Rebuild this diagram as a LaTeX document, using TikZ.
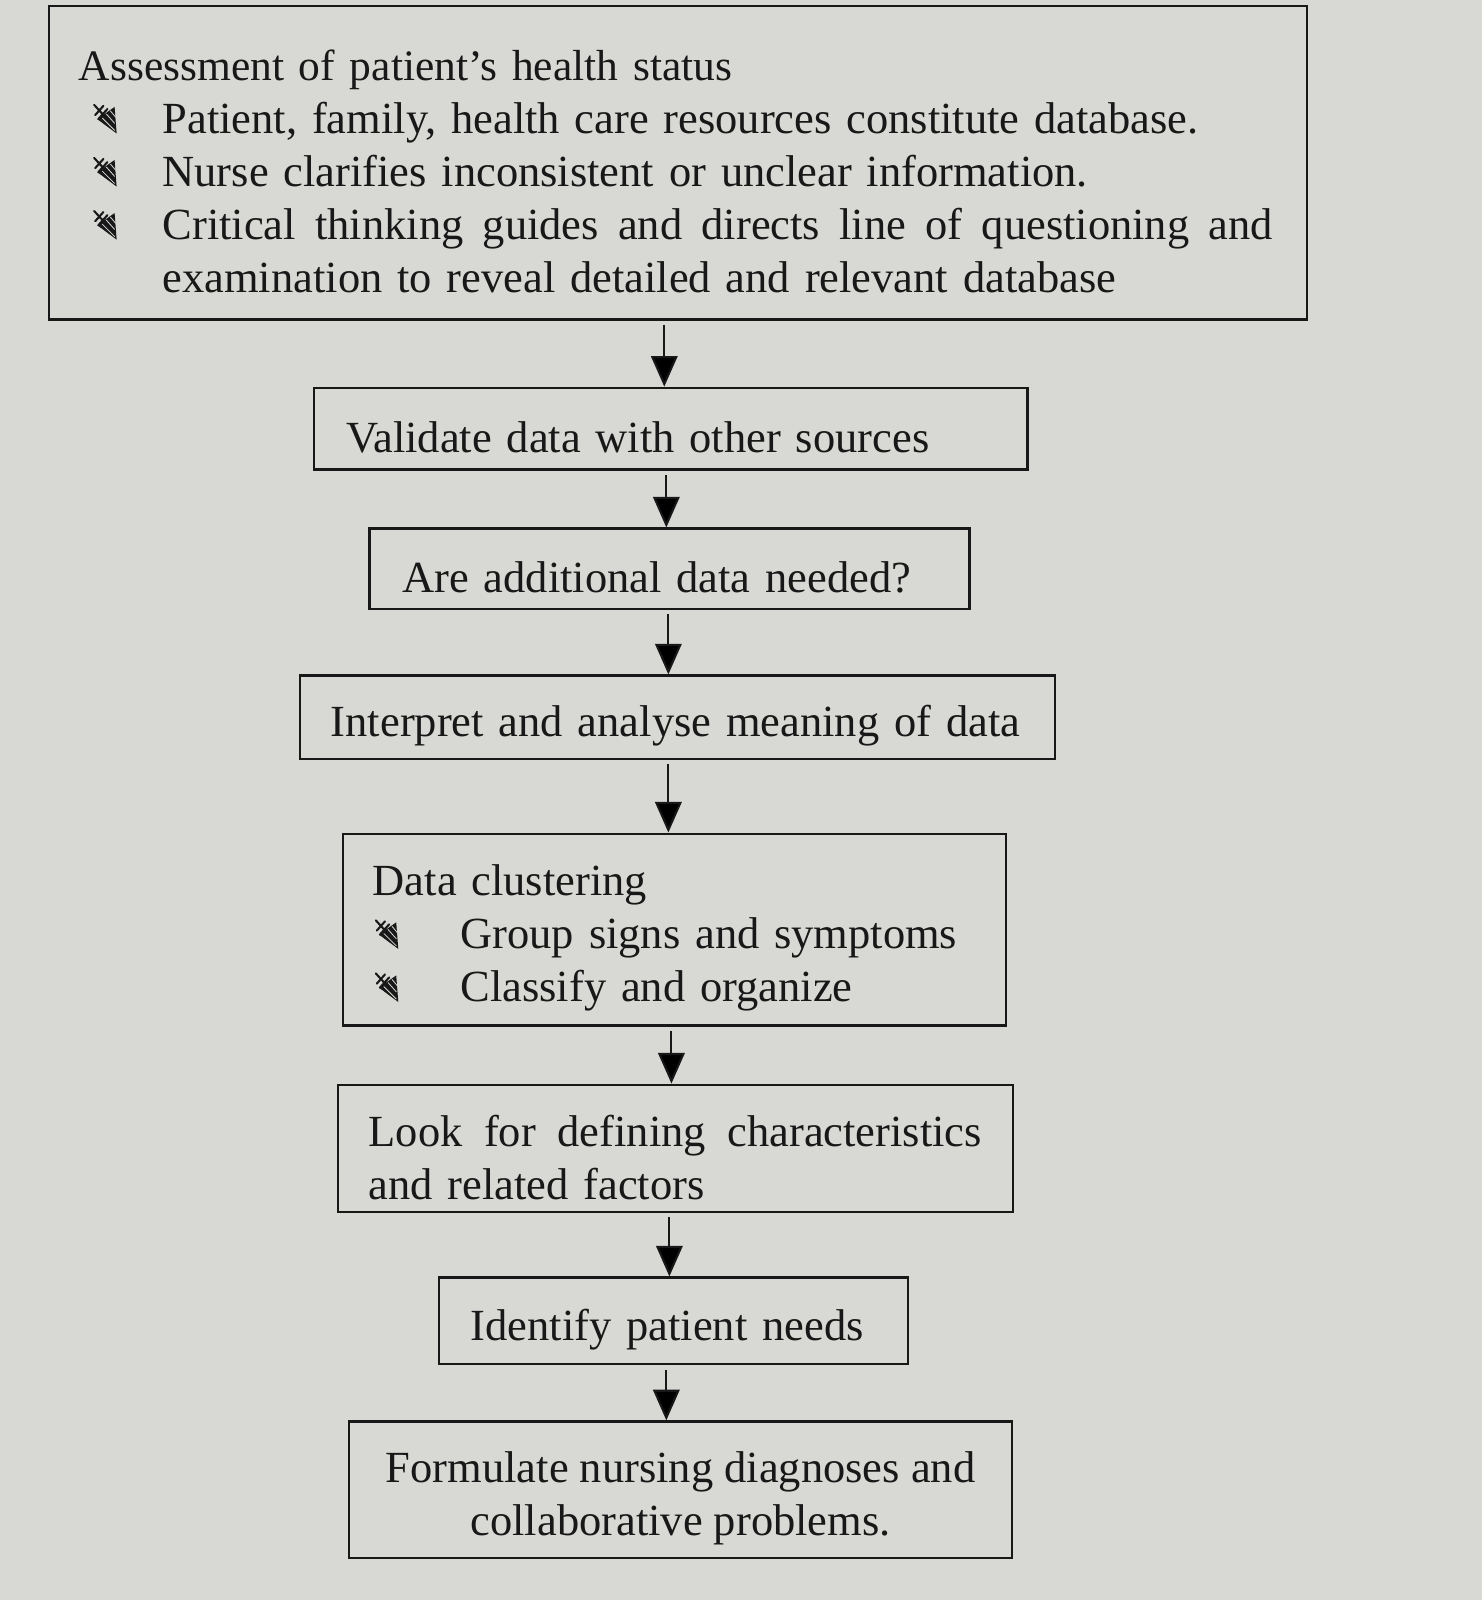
\documentclass[tikz,border=0pt]{standalone}
\usepackage{fontspec}
\setmainfont{Liberation Serif}
\usetikzlibrary{arrows.meta}
\definecolor{paper}{RGB}{216,216,213}
\definecolor{ink}{RGB}{24,24,24}
% feathered-arrow bullet, drawn as a tiny inline picture
\newcommand\bul{\tikz[baseline={(0,28)}, x=0.5pt, y=-0.5pt, line cap=round]{%
  \fill[ink] (3,14) -- (20,2) -- (22,28) -- cycle;
  \draw[paper, line width=0.4pt] (8,13) -- (20,25) (12,9) -- (20,18) (6,17) -- (16,26) (16,6) -- (21,12);
  \draw[ink, line width=1pt] (0,0) -- (10,11) (1,10) -- (9,1) (4,14) -- (13,4);}}
\newcommand\bitem[3]{\makebox[#1][l]{\hspace{#2}\bul}#3}
\newcommand\justline[2]{\makebox[#1][s]{\spaceskip=0pt\xspaceskip=0pt\relax #2}}
\begin{document}
\begin{tikzpicture}[x=0.5pt,y=-0.5pt,
  frame/.style={draw=ink, line width=1.1pt, rectangle, inner sep=0pt},
  txt/.style={inner sep=0pt, font=\fontsize{21.8pt}{26pt}\selectfont, text=ink,
    align=left, anchor=west, yshift=-4.25pt},
  flow/.style={draw=ink, line width=1pt, shorten <=2pt, -{Triangle[width=13pt,length=15pt]}}]
\fill[paper] (0,0) rectangle (1452,1568);
\useasboundingbox (0,0) rectangle (1452,1568);

% boxes
\node[frame, minimum width=616.5pt, minimum height=153.5pt] (b1) at (664.5,159.5) {};
\node[frame, minimum width=349.5pt, minimum height=40pt]    (b2) at (657.5,420) {};
\node[frame, minimum width=294pt,   minimum height=39.5pt]  (b3) at (656,557.5) {};
\node[frame, minimum width=370pt,   minimum height=41pt]    (b4) at (664,703) {};
\node[frame, minimum width=325pt,   minimum height=94pt]    (b5) at (661,911) {};
\node[frame, minimum width=331pt,   minimum height=62.5pt]  (b6) at (662,1125.5) {};
\node[frame, minimum width=230pt,   minimum height=42.5pt]  (b7) at (660,1294.5) {};
\node[frame, minimum width=325pt,   minimum height=67pt]    (b8) at (667,1460) {};

% texts
\node[txt, text width=600pt, xshift=15pt] (t1) at (b1.west)
 {\makebox[0pt][l]{\fontsize{21.3pt}{26pt}\selectfont Assessment of patient's health status}\\
  \bitem{41pt}{7pt}{Patient, family, health care resources constitute database.}\\
  \bitem{41pt}{7pt}{Nurse clarifies inconsistent or unclear information.}\\
  \bitem{41pt}{7pt}{\justline{544pt}{Critical thinking guides and directs line of questioning and}}\\
  \hspace*{41pt}examination to reveal detailed and relevant database};
\node[txt, text width=330pt, xshift=16pt] (t2) at (b2.west) {Validate data with other sources};
\node[txt, text width=270pt, xshift=16.5pt] (t3) at (b3.west) {Are additional data needed?};
\node[txt, text width=350pt, xshift=15.5pt] (t4) at (b4.west) {Interpret and analyse meaning of data};
\node[txt, text width=305pt, xshift=15pt] (t5) at (b5.west)
 {Data clustering\\
  \bitem{43pt}{1pt}{Group signs and symptoms}\\
  \bitem{43pt}{1pt}{Classify and organize}};
\node[txt, text width=310pt, xshift=15.5pt] (t6) at (b6.west)
 {\justline{300.5pt}{Look for defining characteristics}\\
  and related factors};
\node[txt, text width=210pt, xshift=16pt] (t7) at (b7.west) {Identify patient needs};
\node[txt, align=center, anchor=center] (t8) at (b8.center)
 {Formulate nursing diagnoses and\\ collaborative problems.};

% connectors
\draw[flow] (b1.south -| 651,0) -- (b2.north -| 651,0);
\draw[flow] (b2.south -| 653,0) -- (b3.north -| 653,0);
\draw[flow] (b3.south -| 655,0) -- (b4.north -| 655,0);
\draw[flow] (b4.south -| 655,0) -- (b5.north -| 655,0);
\draw[flow] (b5.south -| 658,0) -- (b6.north -| 658,0);
\draw[flow] (b6.south -| 656,0) -- (b7.north -| 656,0);
\draw[flow] (b7.south -| 653,0) -- (b8.north -| 653,0);
\end{tikzpicture}
\end{document}
